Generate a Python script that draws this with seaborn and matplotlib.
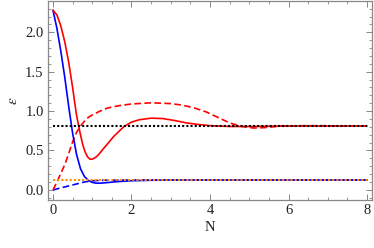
import numpy as np
import pandas as pd
import seaborn as sns
import matplotlib.pyplot as plt
from matplotlib.ticker import MultipleLocator

# values
n_blue = [0, 0.1, 0.2, 0.3, 0.4, 0.5, 0.6, 0.7, 0.8, 0.9, 1.0, 1.1, 1.2, 1.4, 1.6, 1.8, 2.0, 2.5, 3.0, 4.0, 8.0]
eps_blue = [2.28, 2.05, 1.76, 1.43, 1.06, 0.72, 0.45, 0.27, 0.17, 0.12, 0.095, 0.085, 0.085, 0.093, 0.103, 0.11, 0.116, 0.122, 0.125, 0.125, 0.125]

n_red = [0, 0.1, 0.2, 0.3, 0.4, 0.5, 0.55, 0.6, 0.65, 0.7, 0.76, 0.82, 0.88, 0.94, 1.0, 1.08, 1.15, 1.28, 1.4, 1.55,
         1.8, 2.0, 2.2, 2.5, 2.8, 3.1, 3.4, 3.7, 4.0, 4.5, 5.0, 6.0, 8.0]
eps_red = [2.28, 2.22, 2.08, 1.88, 1.62, 1.3, 1.12, 0.95, 0.82, 0.70, 0.57, 0.48, 0.42, 0.39, 0.39, 0.41, 0.44, 0.52, 0.59, 0.68,
           0.80, 0.86, 0.89, 0.91, 0.905, 0.88, 0.85, 0.83, 0.815, 0.805, 0.805, 0.81, 0.81]

n_red_d = [0, 0.1, 0.2, 0.3, 0.4, 0.5, 0.6, 0.7, 0.8, 0.9, 1.0, 1.2, 1.4, 1.7, 2.0, 2.5, 3.0, 3.3, 3.6, 3.9, 4.2, 4.5,
           4.8, 5.1, 5.4, 5.8, 6.5, 8.0]
eps_red_d = [0, 0.1, 0.21, 0.32, 0.46, 0.61, 0.73, 0.81, 0.87, 0.92, 0.95, 1.0, 1.04, 1.07, 1.09, 1.105, 1.095, 1.075, 1.04, 0.99, 0.92, 0.85,
             0.805, 0.785, 0.79, 0.81, 0.815, 0.81]

n_blue_d = [0, 0.2, 0.4, 0.6, 0.8, 1.0, 1.3, 2.0, 8.0]
eps_blue_d = [0, 0.025, 0.05, 0.075, 0.1, 0.115, 0.122, 0.125, 0.125]

n_span = [0, 8]
eps_black = [0.81, 0.81]
eps_orange = [0.13, 0.13]

sns.set_style('ticks')
plt.rcParams['font.family'] = ['Liberation Serif', 'DejaVu Serif']
plt.rcParams['mathtext.fontset'] = 'stix'

fig = plt.figure(figsize=(3.74, 2.48), dpi=100)
ax = fig.add_axes([0.128, 0.194, 0.867, 0.803])

lw = 1.2
sns.lineplot(x=n_blue_d, y=eps_blue_d, color='blue', lw=lw, linestyle=(0, (4, 2)), ax=ax)
sns.lineplot(x=n_red_d, y=eps_red_d, color='red', lw=lw, linestyle=(0, (4, 2)), ax=ax)
sns.lineplot(x=n_blue, y=eps_blue, color='blue', lw=lw, ax=ax)
sns.lineplot(x=n_red, y=eps_red, color='red', lw=lw, ax=ax)
# dotted reference levels on top
sns.lineplot(x=n_span, y=eps_orange, color=(1, 0.55, 0), lw=1.5, linestyle=(0, (1.0, 1.0)), ax=ax)
sns.lineplot(x=n_span, y=eps_black, color='black', lw=1.5, linestyle=(0, (1.0, 1.0)), ax=ax)

ax.set_xlim(-0.13, 8.13)
ax.set_ylim(-0.127, 2.40)
ax.xaxis.set_major_locator(MultipleLocator(2))
ax.xaxis.set_minor_locator(MultipleLocator(0.5))
ax.yaxis.set_major_locator(MultipleLocator(0.5))
ax.yaxis.set_minor_locator(MultipleLocator(0.1))
ax.yaxis.set_major_formatter(plt.FormatStrFormatter('%.1f'))

ax.tick_params(which='both', direction='in', top=True, right=True, color='#888888', labelsize=10.5,
               labelcolor='#222222', pad=3)
ax.tick_params(which='major', length=4, width=0.7)
ax.tick_params(which='minor', length=2.2, width=0.6)
for s in ax.spines.values():
    s.set_color('#888888')
    s.set_linewidth(0.9)

ax.set_xlabel('N', fontsize=10.5, color='#222222', labelpad=3)
ax.set_ylabel(r'$\varepsilon$', fontsize=11, color='#222222', labelpad=4)

fig.savefig('out.png', dpi=100)
